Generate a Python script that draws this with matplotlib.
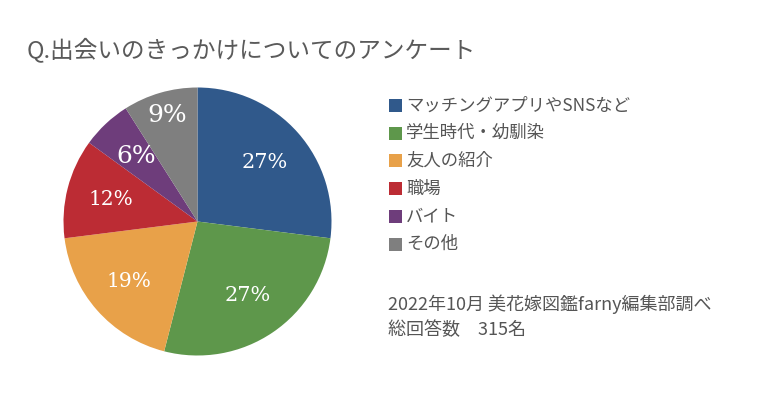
import matplotlib
matplotlib.use("Agg")
import matplotlib.pyplot as plt
from matplotlib.patches import Rectangle
import numpy as np

plt.rcParams['font.family'] = ['Noto Sans CJK JP', 'DejaVu Sans']

title = "Q.出会いのきっかけについてのアンケート"
categories = ["マッチングアプリやSNSなど", "学生時代・幼馴染", "友人の紹介", "職場", "バイト", "その他"]
values = [27, 27, 19, 12, 6, 9]
colors = ["#30598B", "#5E974B", "#E8A149", "#BC2C34", "#6E3D7B", "#7F7F7F"]
pct_labels = ["27%", "27%", "19%", "12%", "6%", "9%"]
footnote = ["2022年10月 美花嫁図鑑farny編集部調べ", "総回答数　315名"]

W, H = 774, 396
fig = plt.figure(figsize=(W / 100, H / 100), dpi=100)
fig.patch.set_facecolor("white")

cx, cy, r = 197.5, 221.5, 134
ax = fig.add_axes([(cx - r) / W, (H - cy - r) / H, 2 * r / W, 2 * r / H])
wedges, _ = ax.pie(values, colors=colors, startangle=90, counterclock=False,
                   radius=1, wedgeprops=dict(linewidth=0))
ax.set_xlim(-1, 1)
ax.set_ylim(-1, 1)
ax.set_aspect("equal")
ax.axis("off")

label_r = [0.67, 0.67, 0.68, 0.67, 0.67, 0.82]
label_fs = [15, 15, 14.5, 14.5, 18, 18]
for w, lab, lr, fs in zip(wedges, pct_labels, label_r, label_fs):
    ang = np.deg2rad((w.theta1 + w.theta2) / 2)
    ax.text(lr * np.cos(ang), lr * np.sin(ang), lab, ha="center", va="center",
            color="white", fontsize=fs, family=["DejaVu Serif"])

fig.text(27 / W, 1 - 50 / H, title, ha="left", va="center", fontsize=17,
         color="#5a5a5a")

for i, (cat, col) in enumerate(zip(categories, colors)):
    y = 105.5 + i * 27.7
    fig.patches.append(Rectangle((389 / W, 1 - (y + 6.5) / H), 13 / W, 13 / H,
                                 transform=fig.transFigure, facecolor=col,
                                 edgecolor="none"))
    fig.text(406 / W, 1 - y / H, cat, ha="left", va="center", fontsize=12.5,
             color="#555555")

for i, line in enumerate(footnote):
    fig.text(388 / W, 1 - (304 + i * 26.5) / H, line, ha="left", va="center",
             fontsize=13, color="#555555")

fig.savefig("out.png", dpi=100, facecolor="white")
